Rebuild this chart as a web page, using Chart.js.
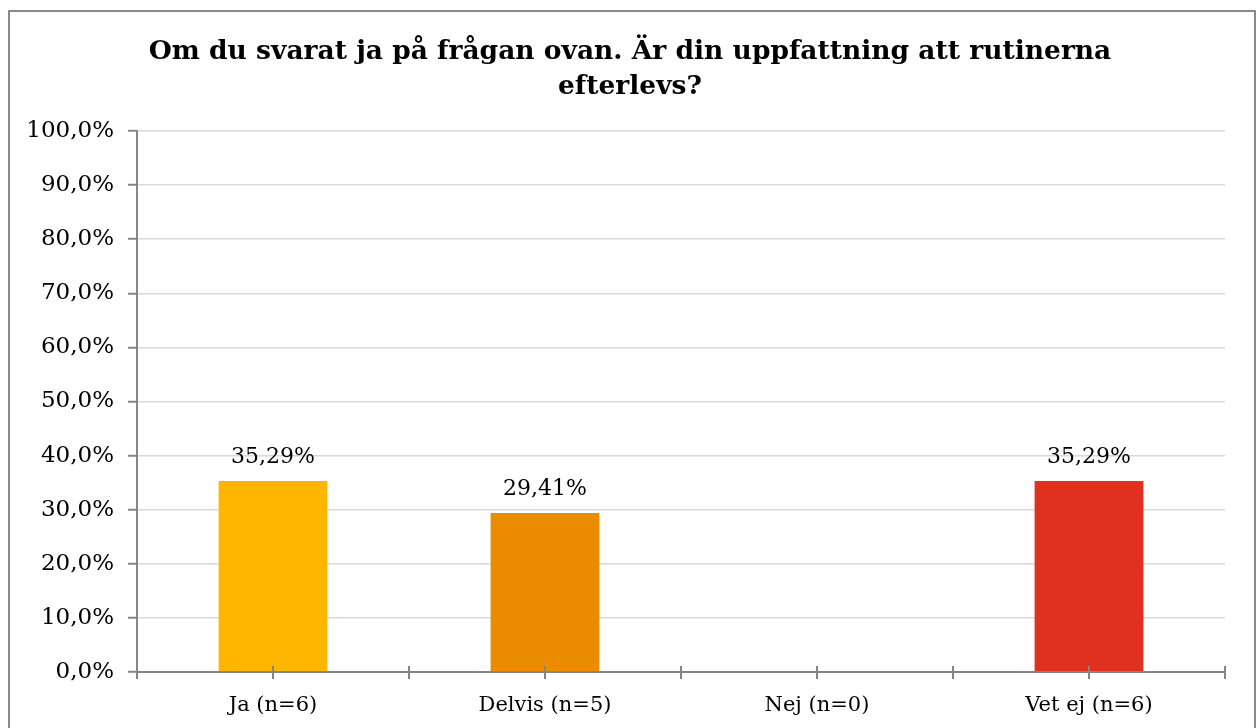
<!DOCTYPE html>
<html>
<head>
<meta charset="utf-8">
<script src="https://cdn.jsdelivr.net/npm/chart.js@4.4.1/dist/chart.umd.min.js"></script>
<style>
  html, body { margin: 0; padding: 0; background: #fff; width: 1260px; height: 728px; overflow: hidden; }
  .frame { position: absolute; left: 8px; top: 10px; width: 1244px; height: 740px; border: 2px solid #8a8a8a; }
  .wrap { position: absolute; left: 0; top: 0; width: 1260px; height: 728px; }
</style>
</head>
<body>
<div class="frame"></div>
<div class="wrap"><canvas id="c" width="1260" height="728"></canvas></div>
<script>
const titleLines = ['Om du svarat ja på frågan ovan. Är din uppfattning att rutinerna', 'efterlevs?'];
const categories = ['Ja (n=6)', 'Delvis (n=5)', 'Nej (n=0)', 'Vet ej (n=6)'];
const values = [35.29, 29.41, 0, 35.29];
const barColors = ['#FFB600', '#EB8C00', '#DC6900', '#E0301E'];
const yTicks = [0, 10, 20, 30, 40, 50, 60, 70, 80, 90, 100];

const FONT = "'DejaVu Serif', Georgia, serif";
const fmtPct = (v, d) => v.toFixed(d).replace('.', ',') + '%';

// value labels above bars (no datalabels plugin available)
const barLabels = {
  id: 'barLabels',
  afterDatasetsDraw(chart) {
    const ctx = chart.ctx;
    const meta = chart.getDatasetMeta(0);
    ctx.save();
    ctx.font = '22px ' + FONT; ctx.fillStyle = '#000';
    ctx.textAlign = 'center'; ctx.textBaseline = 'middle';
    meta.data.forEach((bar, i) => {
      const v = values[i]; if (!v) return;
      ctx.fillText(fmtPct(v, 2), bar.x, bar.y - 24);
    });
    ctx.restore();
  }
};

// crossing tick marks on the x axis, at category edges and centres
const xTickMarks = {
  id: 'xTickMarks',
  afterDraw(chart) {
    const x = chart.scales.x, ctx = chart.ctx;
    const y0 = chart.chartArea.bottom;
    ctx.save();
    ctx.strokeStyle = '#868686'; ctx.lineWidth = 2;
    ctx.beginPath();
    for (let v = -0.5; v <= categories.length - 0.5; v += 0.5) {
      const px = Math.round(x.getPixelForValue(v));
      ctx.moveTo(px, y0 - 6); ctx.lineTo(px, y0 + 7);
    }
    ctx.moveTo(chart.chartArea.left, y0); ctx.lineTo(chart.chartArea.right, y0);
    ctx.stroke();
    ctx.restore();
  }
};

new Chart(document.getElementById('c'), {
  type: 'bar',
  data: { labels: categories, datasets: [{
    data: values, backgroundColor: barColors, borderWidth: 0,
    categoryPercentage: 1, barPercentage: 0.4,
  }]},
  options: {
    responsive: false, animation: false, devicePixelRatio: 1,
    layout: { padding: 0 },
    plugins: {
      legend: { display: false }, tooltip: { enabled: false },
      title: { display: true, text: titleLines, color: '#000',
        font: { family: FONT, size: 26.5, weight: 'bold', lineHeight: 1.32 },
        padding: { top: 35, bottom: 26 } },
    },
    scales: {
      x: {
        grid: { display: false, drawTicks: false },
        border: { display: false },
        ticks: { color: '#000', font: { family: FONT, size: 21 }, padding: 21 },
        afterFit: s => { s.height = 56; },
      },
      y: {
        min: 0, max: 100,
        afterBuildTicks: s => { s.ticks = yTicks.map(v => ({ value: v })); },
        grid: { color: '#d9d9d9', lineWidth: 1.5, tickColor: '#868686', tickLength: 9, tickWidth: 2 },
        border: { color: '#868686', width: 2 },
        ticks: { color: '#000', font: { family: FONT, size: 23 }, padding: 14, callback: v => fmtPct(v, 1) },
        afterFit: s => { s.width = 137; },
      },
      // empty right-hand strip so the title centres on the whole frame
      yRight: {
        position: 'right', display: true, min: 0, max: 100,
        grid: { display: false }, border: { display: false }, ticks: { display: false },
        afterFit: s => { s.width = 35; },
      },
    },
  },
  plugins: [barLabels, xTickMarks],
});
</script>
</body>
</html>
